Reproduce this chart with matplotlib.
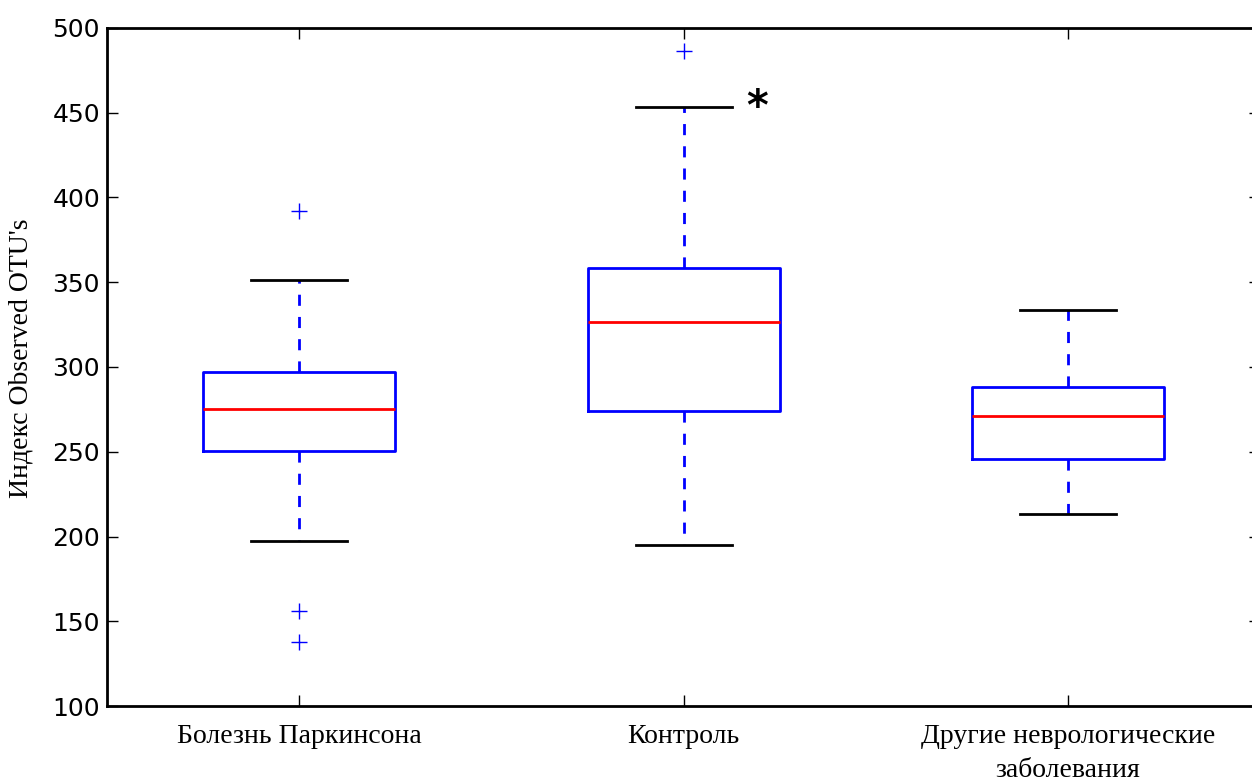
import matplotlib.pyplot as plt

# values
groups = ['Болезнь Паркинсона', 'Контроль', 'Другие неврологические\nзаболевания']
q1 = [250.7, 274.0, 246.0]
med = [275.5, 326.5, 270.8]
q3 = [297.3, 358.4, 288.4]
wlo = [197.3, 195.0, 213.3]
whi = [351.3, 453.4, 333.9]
fliers = [[392.3, 156.0, 137.8], [486.4], []]

stats = []
for i in range(len(groups)):
    stats.append({'q1': q1[i], 'med': med[i], 'q3': q3[i],
                  'whislo': wlo[i], 'whishi': whi[i], 'fliers': fliers[i]})

fig = plt.figure(figsize=(12.52, 7.83), dpi=100)
ax = fig.add_axes([0.0855, 0.0983, 0.921, 0.866])

ax.bxp(stats, positions=[1, 2, 3], widths=0.5,
       boxprops=dict(color='blue', linewidth=2),
       whiskerprops=dict(color='blue', linewidth=2, linestyle=(0, (4, 4))),
       capprops=dict(color='black', linewidth=2),
       medianprops=dict(color='red', linewidth=2),
       flierprops=dict(marker='+', markeredgecolor='blue', markersize=12,
                       markeredgewidth=1, linestyle='none'))

ax.set_xlim(0.5, 3.5)
ax.set_ylim(100, 500)
ax.set_yticks(range(100, 501, 50))
ax.set_xticks([1, 2, 3])
ax.set_xticklabels(groups, family='Liberation Serif', fontsize=20, linespacing=1.45)
ax.tick_params(direction='in', top=True, right=True, length=8, width=1)
ax.tick_params(axis='x', pad=13)
ax.tick_params(axis='y', labelsize=18, pad=5)
for s in ax.spines.values():
    s.set_linewidth(2)
ax.set_ylabel("Индекс Observed OTU's", family='Liberation Serif', fontsize=20)
ax.yaxis.set_label_coords(-0.064, 0.513)

ax.text(2.19, 453, '*', fontsize=30, fontweight='bold', ha='center', va='center')

plt.savefig('out.png')
